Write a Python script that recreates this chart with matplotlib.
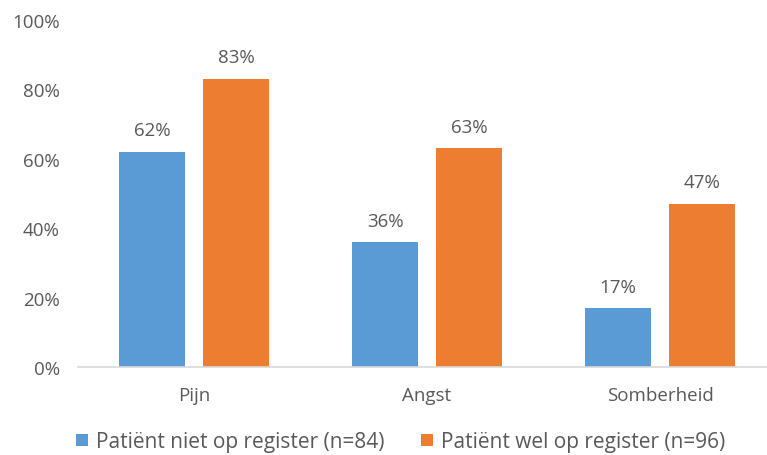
import matplotlib
matplotlib.use('Agg')
import matplotlib.pyplot as plt
import numpy as np

categories = ['Pijn', 'Angst', 'Somberheid']
niet_op_register = [0.62, 0.36, 0.17]
wel_op_register = [0.83, 0.63, 0.47]
series_labels = ['Patiënt niet op register (n=84)', 'Patiënt wel op register (n=96)']
yticks = [0, 0.2, 0.4, 0.6, 0.8, 1.0]

BLUE = '#5B9BD5'
ORANGE = '#ED7D31'
TXT = '#595959'

plt.rcParams['font.family'] = ['Open Sans', 'DejaVu Sans']

fig = plt.figure(figsize=(7.67, 4.56), dpi=100)
ax = fig.add_axes([78/767, 1-368/456, 1-78/767, (368-21)/456])

x = np.arange(len(categories))
w = 0.28
off = 0.18
b1 = ax.bar(x - off, niet_op_register, w, color=BLUE, label=series_labels[0])
b2 = ax.bar(x + off, wel_op_register, w, color=ORANGE, label=series_labels[1])

for bars in (b1, b2):
    for r in bars:
        ax.annotate(f'{r.get_height()*100:.0f}%', (r.get_x() + r.get_width()/2, r.get_height()),
                    xytext=(0, 9), textcoords='offset points', ha='center', va='bottom',
                    fontsize=13.5, color=TXT)

ax.set_xlim(-(194-78)/233, -(194-78)/233 + 689/233)
ax.set_ylim(0, 1)
ax.set_yticks(yticks)
ax.set_yticklabels([f'{v*100:.0f}%' for v in yticks])
ax.set_xticks(x)
ax.set_xticklabels(categories)
ax.tick_params(axis='y', length=0, pad=13, labelsize=13.5, labelcolor=TXT)
ax.tick_params(axis='x', length=0, pad=14, labelsize=13.5, labelcolor=TXT)
for s in ['top', 'right', 'left']:
    ax.spines[s].set_visible(False)
ax.spines['bottom'].set_color('#D9D9D9')
ax.spines['bottom'].set_linewidth(1.2)

fig.legend(handles=[b1, b2], loc='center left', bbox_to_anchor=(68/767, 1-443/456), ncol=2,
           frameon=False, fontsize=15, labelcolor=TXT, handlelength=0.55, handleheight=0.55,
           handletextpad=0.4, columnspacing=1.75, borderaxespad=0)

fig.savefig('out.png', dpi=100)
